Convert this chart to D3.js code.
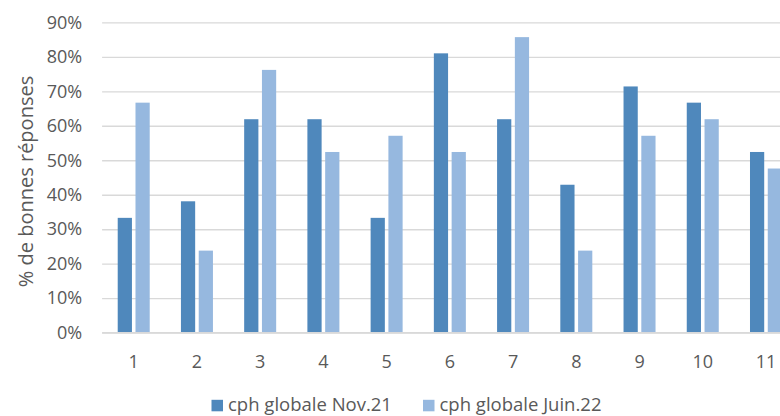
<!DOCTYPE html>
<html>
<head>
<meta charset="utf-8">
<script src="https://cdn.jsdelivr.net/npm/d3@7"></script>
<style>
  html, body { margin: 0; padding: 0; background: #fff; }
  svg { display: block; }
  text { font-family: "Open Sans", sans-serif; fill: #595959; }
</style>
</head>
<body>
<script>
const categories = ["1","2","3","4","5","6","7","8","9","10","11"];
const seriesNames = ["cph globale Nov.21", "cph globale Juin.22"];
const nov21  = [0.333, 0.381, 0.619, 0.619, 0.333, 0.810, 0.619, 0.429, 0.714, 0.667, 0.524];
const juin22 = [0.667, 0.238, 0.762, 0.524, 0.571, 0.524, 0.857, 0.238, 0.571, 0.619, 0.476];
const yTicks = [0, 0.1, 0.2, 0.3, 0.4, 0.5, 0.6, 0.7, 0.8, 0.9];
const colors = ["#4f88bc", "#96b8df"];

const W = 780, H = 416;
const svg = d3.select("body").append("svg").attr("width", W).attr("height", H);

const x0 = 102.1, x1 = 797.6, yBottom = 332.7, yTop = 22.3;
const x = d3.scaleBand().domain(categories).range([x0, x1]).paddingInner(0).paddingOuter(0);
const inner = d3.scaleBand().domain(seriesNames)
  .range([x.bandwidth()/2 - 16, x.bandwidth()/2 + 16]).paddingInner(0.2).paddingOuter(0);
const y = d3.scaleLinear().domain([0, 0.9]).range([yBottom, yTop]);

// gridlines
const yAxis = d3.axisLeft(y).tickValues(yTicks).tickSize(-(W - x0 + 10)).tickPadding(20)
  .tickFormat(d3.format(".0%"));
const gy = svg.append("g").attr("transform", `translate(${x0},0)`).call(yAxis);
gy.select(".domain").remove();
gy.selectAll(".tick line").attr("stroke", "#d9d9d9").attr("stroke-width", 1.3);
gy.selectAll(".tick text").style("font-size", "18px").attr("fill", "#595959");

// bars
const data = categories.map((c, i) => ({ c, vals: [nov21[i], juin22[i]] }));
const groups = svg.append("g").selectAll("g").data(data).join("g")
  .attr("transform", d => `translate(${x(d.c)},0)`);
groups.selectAll("rect").data(d => d.vals.map((v, j) => ({ v, s: seriesNames[j], j })))
  .join("rect")
  .attr("x", d => inner(d.s))
  .attr("width", inner.bandwidth())
  .attr("y", d => y(d.v))
  .attr("height", d => yBottom - y(d.v))
  .attr("fill", d => colors[d.j]);

// x axis
const xAxis = d3.axisBottom(x).tickSize(0).tickPadding(23);
const gx = svg.append("g").attr("transform", `translate(0,${yBottom})`).call(xAxis);
gx.select(".domain").remove();
gx.selectAll(".tick text").style("font-size", "18px").attr("fill", "#595959");
svg.append("line").attr("x1", x0).attr("x2", W).attr("y1", yBottom).attr("y2", yBottom)
  .attr("stroke", "#d9d9d9").attr("stroke-width", 1.5);

// y title
svg.append("text")
  .attr("transform", `translate(33,${(yTop + yBottom) / 2 + 4}) rotate(-90)`)
  .attr("text-anchor", "middle")
  .style("font-size", "20px")
  .text("% de bonnes réponses");

// legend
const legendX = [211.5, 423];
const lg = svg.append("g").selectAll("g").data(seriesNames).join("g")
  .attr("transform", (d, i) => `translate(${legendX[i]},${405})`);
lg.append("rect").attr("x", 0).attr("y", -5.2).attr("width", 11.5).attr("height", 11.5)
  .attr("fill", (d, i) => colors[i]);
lg.append("text").attr("x", 16.5).attr("y", 0).attr("dy", "0.33em")
  .style("font-size", "18.5px").text(d => d);
</script>
</body>
</html>
